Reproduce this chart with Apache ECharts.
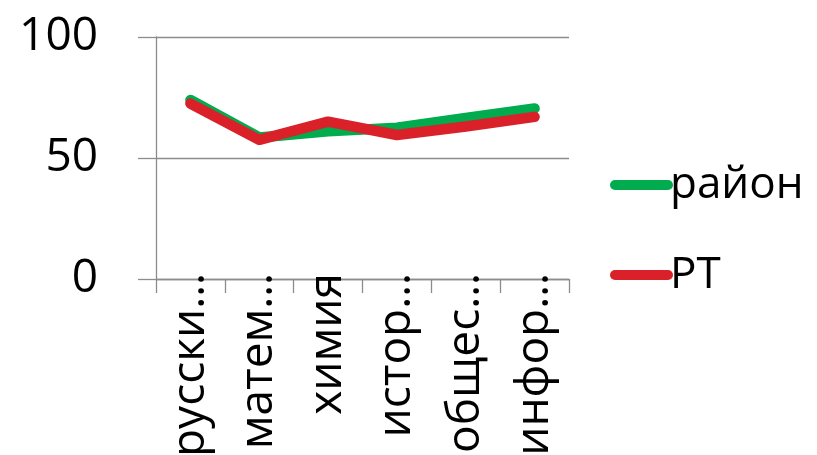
<!DOCTYPE html>
<html><head><meta charset="utf-8">
<script src="https://cdn.jsdelivr.net/npm/echarts@6/dist/echarts.min.js"></script>
<style>html,body{margin:0;padding:0;background:#fff}#c{width:817px;height:455px}</style>
</head><body><div id="c"></div>
<script>
var categories = ['русски…', 'матем…', 'химия', 'истор…', 'общес…', 'инфор…'];
var rayon = [74, 58.5, 61, 62.5, 66.5, 70.5];
var rt = [72.5, 57.5, 65, 59.5, 63, 67];
var yTicks = [0, 50, 100];

var FONT = '"Open Sans", sans-serif';
var chart = echarts.init(document.getElementById('c'), null, {renderer: 'canvas'});
var pill = 'path://M5,0 H58 A5,5 0 0 1 58,10 H5 A5,5 0 0 1 5,0 Z';
chart.setOption({
  animation: false,
  backgroundColor: '#fff',
  grid: {left: 156, right: 248, top: 37, bottom: 176, outerBoundsMode: 'none', containLabel: false},
  xAxis: {
    type: 'category', data: categories, boundaryGap: true,
    axisLine: {lineStyle: {color: '#8c8c8c', width: 1.3}},
    axisTick: {show: true, length: 14, lineStyle: {color: '#8c8c8c', width: 1.3}},
    axisLabel: {rotate: 90, margin: -6, color: '#000', fontFamily: FONT, fontSize: 46, interval: 0}
  },
  yAxis: {
    type: 'value', min: yTicks[0], max: yTicks[yTicks.length - 1], interval: 50,
    axisLine: {show: true, lineStyle: {color: '#8c8c8c', width: 1.3}},
    axisTick: {show: true, length: 18, lineStyle: {color: '#8c8c8c', width: 1.3}},
    splitLine: {show: true, lineStyle: {color: '#8c8c8c', width: 1.3}},
    axisLabel: {margin: 58, color: '#000', fontFamily: FONT, fontSize: 46}
  },
  legend: {
    orient: 'vertical', left: 605, top: 155, itemWidth: 63, itemHeight: 10, itemGap: 40,
    icon: pill,
    textStyle: {fontFamily: FONT, fontSize: 44, color: '#000', padding: [0, 0, 0, -8], lineHeight: 50},
    data: ['район', 'РТ']
  },
  series: [
    {name: 'район', type: 'line', data: rayon, showSymbol: false, symbol: 'none',
     itemStyle: {color: '#00AC4E'}, lineStyle: {color: '#00AC4E', width: 10.5, cap: 'round', join: 'round'}},
    {name: 'РТ', type: 'line', data: rt, showSymbol: false, symbol: 'none',
     itemStyle: {color: '#DA2129'}, lineStyle: {color: '#DA2129', width: 10.5, cap: 'round', join: 'round'}}
  ]
});
</script></body></html>
